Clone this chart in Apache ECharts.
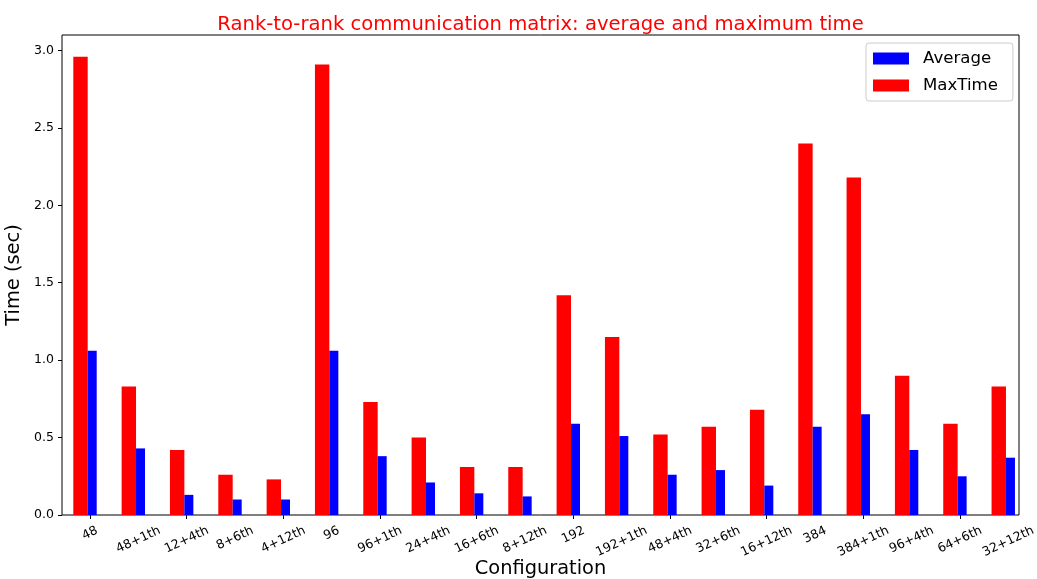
<!DOCTYPE html>
<html>
<head>
<meta charset="utf-8">
<script src="https://cdn.jsdelivr.net/npm/echarts@6/dist/echarts.min.js"></script>
<style>
  html, body { margin: 0; padding: 0; background: #fff; }
  #chart { width: 1037px; height: 579px; }
</style>
</head>
<body>
<div id="chart"></div>
<script>
// Configurations measured
const categories = ['48', '48+1th', '12+4th', '8+6th', '4+12th', '96', '96+1th', '24+4th', '16+6th', '8+12th',
  '192', '192+1th', '48+4th', '32+6th', '16+12th', '384', '384+1th', '96+4th', '64+6th', '32+12th'];

// Maximum rank-to-rank time (sec)
const maxTime = [2.96, 0.83, 0.42, 0.26, 0.23, 2.91, 0.73, 0.50, 0.31, 0.31,
  1.42, 1.15, 0.52, 0.57, 0.68, 2.40, 2.18, 0.90, 0.59, 0.83];

// Average rank-to-rank time (sec)
const averageTime = [1.06, 0.43, 0.13, 0.10, 0.10, 1.06, 0.38, 0.21, 0.14, 0.12,
  0.59, 0.51, 0.26, 0.29, 0.19, 0.57, 0.65, 0.42, 0.25, 0.37];

// y-axis ticks
const yTicks = [0, 0.5, 1.0, 1.5, 2.0, 2.5, 3.0];

const FONT = 'DejaVu Sans';
const TICK_FONT = 12.5;
const ROT = 25;

const chart = echarts.init(document.getElementById('chart'), null, { renderer: 'canvas' });

const plotTop = 35, plotH = 480;
const tickStart = 90, tickStep = 48.33;

chart.setOption({
  animation: false,
  backgroundColor: '#fff',
  textStyle: { fontFamily: FONT, color: '#000' },
  title: {
    text: 'Rank-to-rank communication matrix: average and maximum time',
    left: 540.5,
    top: 15,
    padding: 0,
    textAlign: 'center',
    textStyle: { color: '#ff0000', fontSize: 19.6, fontWeight: 'normal', fontFamily: FONT }
  },
  legend: {
    data: ['Average', 'MaxTime'],
    orient: 'vertical',
    left: 866,
    top: 43,
    padding: [7, 15, 7, 7],
    itemGap: 10,
    itemWidth: 36,
    itemHeight: 12,
    backgroundColor: 'rgba(255,255,255,0.8)',
    borderColor: '#cccccc',
    borderWidth: 1,
    borderRadius: 3,
    icon: 'rect',
    textStyle: { fontSize: 16.6, color: '#000', fontFamily: FONT, padding: [0, 0, 0, 9] }
  },
  grid: [
    { left: 62, top: plotTop, width: 957, height: plotH, show: true, borderColor: '#000', borderWidth: 1,
      backgroundColor: 'transparent', containLabel: false, outerBoundsMode: 'none' },
    { left: tickStart - tickStep / 2, top: plotTop, width: tickStep * categories.length, height: plotH, show: false,
      containLabel: false, outerBoundsMode: 'none' }
  ],
  xAxis: [
    {
      gridIndex: 0, type: 'value', min: 0, max: 1,
      axisLine: { show: false }, axisTick: { show: false }, axisLabel: { show: false }, splitLine: { show: false },
      name: 'Configuration', nameLocation: 'middle', nameGap: 44,
      nameTextStyle: { fontSize: 19.4, color: '#000', fontFamily: FONT }
    },
    {
      gridIndex: 1, type: 'category', data: categories, boundaryGap: true,
      axisLine: { show: false },
      axisTick: { show: true, alignWithLabel: true, length: 4, lineStyle: { color: '#000' } },
      axisLabel: { show: false },
      splitLine: { show: false }
    }
  ],
  yAxis: [
    {
      gridIndex: 0, type: 'value', min: 0, max: 3.1,
      axisLine: { show: false },
      axisTick: { show: true, length: 4, customValues: yTicks, lineStyle: { color: '#000' } },
      axisLabel: {
        customValues: yTicks, margin: 8, fontSize: TICK_FONT, color: '#000', fontFamily: FONT,
        formatter: function (v) { return v.toFixed(1); }
      },
      splitLine: { show: false },
      name: 'Time (sec)', nameLocation: 'middle', nameGap: 29, nameRotate: 90,
      nameTextStyle: { fontSize: 19.4, color: '#000', fontFamily: FONT }
    },
    {
      gridIndex: 1, type: 'value', min: 0, max: 3.1, show: false
    }
  ],
  series: [
    {
      name: 'MaxTime', type: 'bar', xAxisIndex: 1, yAxisIndex: 1,
      data: maxTime, barWidth: 14.4, barGap: '0%',
      itemStyle: { color: '#ff0000' }
    },
    {
      name: 'Average', type: 'bar', xAxisIndex: 1, yAxisIndex: 1,
      data: averageTime, barWidth: 9, barGap: '0%',
      itemStyle: { color: '#0000ff' }
    },
    {
      // empty slot that keeps each pair left of its tick
      name: 'slot', type: 'bar', xAxisIndex: 1, yAxisIndex: 1,
      data: [], barWidth: 10, barGap: '0%', silent: true
    }
  ]
});

// Rotated category labels, centred under each tick; the rotated box hangs
// from the axis, so longer labels sit a little lower.
const ctx = document.createElement('canvas').getContext('2d');
ctx.font = TICK_FONT + 'px "' + FONT + '"';
const rad = ROT * Math.PI / 180;
const axisY = chart.convertToPixel({ yAxisIndex: 1 }, 0);
const labelTexts = categories.map(function (c) {
  const x = chart.convertToPixel({ xAxisIndex: 1 }, c);
  const L = ctx.measureText(c).width;
  return {
    type: 'text',
    x: x,
    y: axisY + 15 + L * Math.sin(rad) / 2,
    rotation: rad,
    silent: true,
    style: {
      text: c,
      fill: '#000',
      font: TICK_FONT + 'px "' + FONT + '"',
      textAlign: 'center',
      textVerticalAlign: 'middle'
    }
  };
});
chart.setOption({ graphic: labelTexts });
</script>
</body>
</html>
